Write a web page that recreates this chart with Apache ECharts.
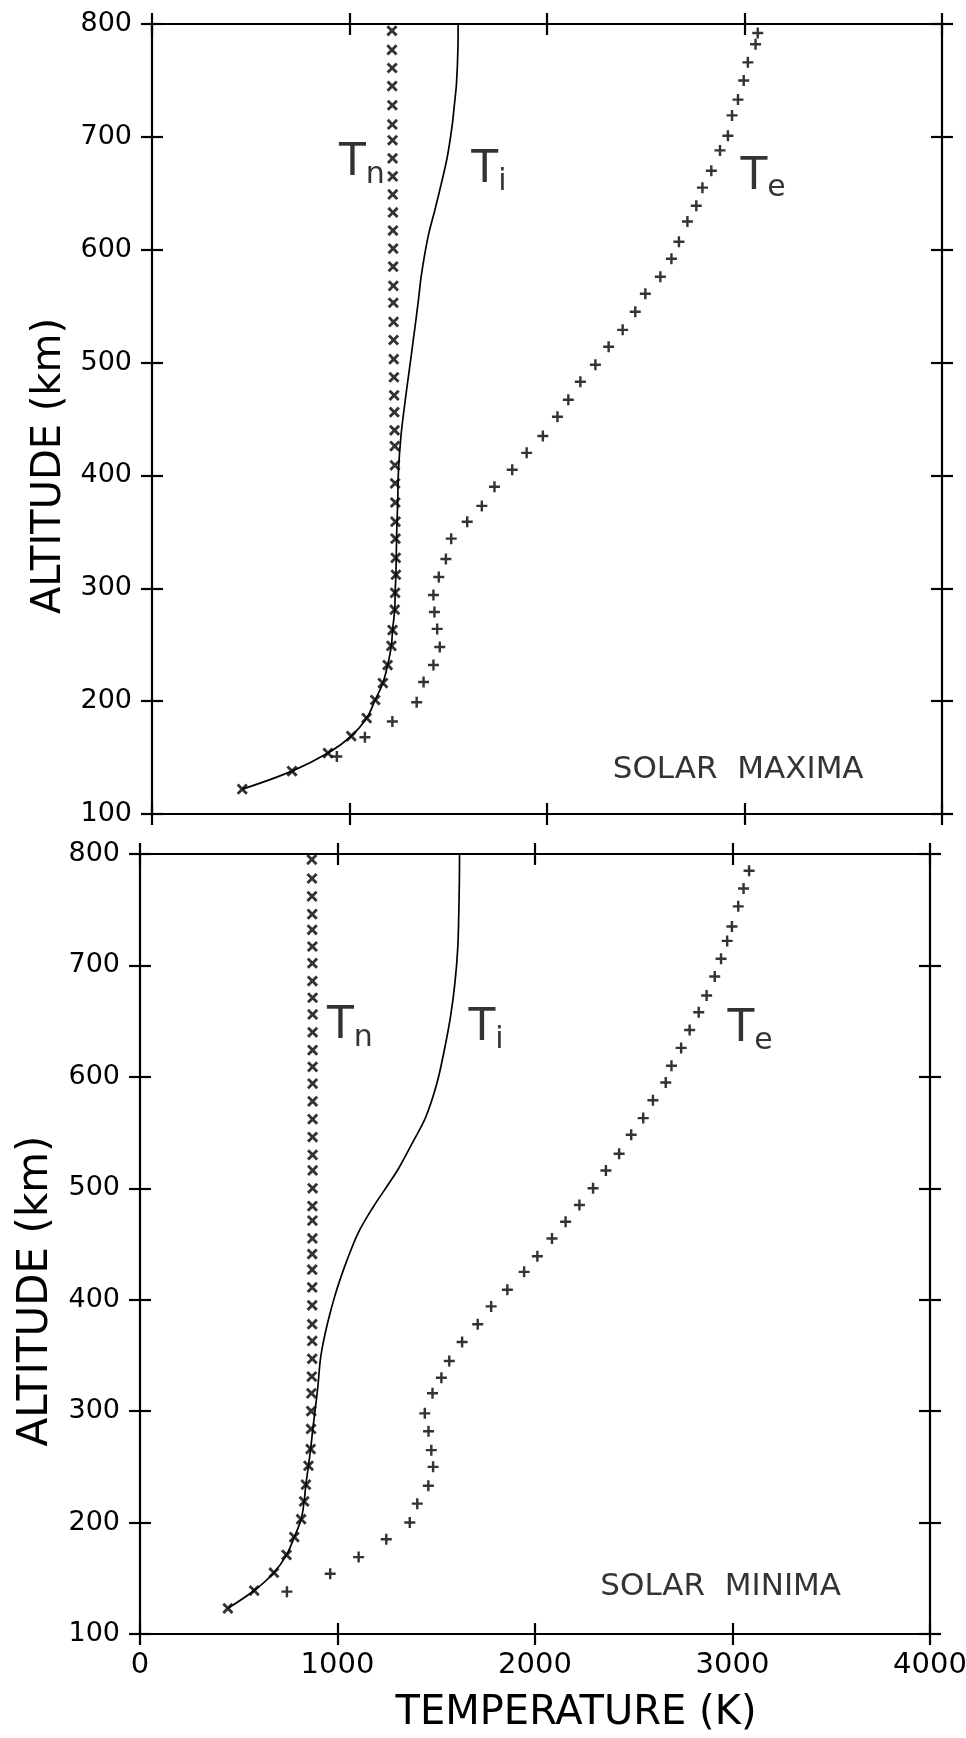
<!DOCTYPE html>
<html>
<head>
<meta charset="utf-8">
<script src="https://cdn.jsdelivr.net/npm/echarts@6/dist/echarts.min.js"></script>
<style>
  html, body { margin: 0; padding: 0; background: #ffffff; }
  #chart { width: 966px; height: 1738px; }
</style>
</head>
<body>
<div id="chart"></div>
<script>
// Altitude profiles (km) of neutral (Tn), ion (Ti) and electron (Te) temperature (K)

const altitudeTicks = [100, 200, 300, 400, 500, 600, 700, 800];
const temperatureTicks = [0, 1000, 2000, 3000, 4000];

// ---- Solar maximum ----
const maxTnAlt = [122, 138, 154, 169, 185, 201, 216, 232, 249, 263, 281, 296, 312, 327, 344, 359, 376, 393, 409, 426, 440, 456, 471, 487, 503, 520, 536, 553, 568, 585, 601, 617, 633, 649, 665, 681, 697, 711, 728, 745, 761, 777, 794];
const maxTnTemp = [457, 709, 891, 1009, 1087, 1130, 1169, 1193, 1212, 1218, 1229, 1231, 1235, 1234, 1233, 1233, 1232, 1231, 1230, 1229, 1228, 1227, 1226, 1225, 1224, 1223, 1223, 1222, 1222, 1221, 1221, 1220, 1220, 1219, 1219, 1218, 1218, 1217, 1217, 1216, 1216, 1215, 1215];

const maxTiAlt = [122, 138, 154, 169, 185, 201, 216, 232, 249, 263, 281, 296, 312, 330, 350, 376, 404, 434, 465, 495, 524, 554, 575, 595, 614, 635, 658, 682, 709, 730, 748, 778, 800];
const maxTiTemp = [457, 709, 891, 1009, 1087, 1130, 1169, 1193, 1212, 1218, 1229, 1231, 1235, 1237, 1239, 1244, 1248, 1260, 1281, 1304, 1326, 1348, 1362, 1380, 1401, 1432, 1464, 1495, 1519, 1532, 1542, 1549, 1550];

const maxTeAlt = [151, 168, 182, 199, 217, 232, 248, 264, 279, 294, 310, 326, 344, 359, 373, 390, 405, 420, 435, 452, 467, 483, 498, 514, 529, 545, 561, 576, 592, 607, 625, 639, 655, 670, 688, 701, 719, 733, 750, 766, 782, 792];
const maxTeTemp = [936, 1078, 1217, 1340, 1375, 1425, 1457, 1444, 1430, 1425, 1452, 1488, 1515, 1596, 1670, 1734, 1824, 1897, 1979, 2053, 2108, 2169, 2245, 2312, 2383, 2447, 2498, 2574, 2630, 2668, 2711, 2756, 2787, 2832, 2876, 2916, 2937, 2967, 2996, 3017, 3056, 3067];

// ---- Solar minimum ----
const minTnAlt = [123, 139, 155, 171, 187, 203, 219, 234, 251, 266, 284, 300, 316, 331, 347, 363, 378, 395, 411, 427, 441, 455, 471, 484, 500, 516, 530, 546, 562, 578, 594, 609, 624, 640, 656, 671, 686, 702, 717, 732, 746, 762, 778, 795];
const minTnTemp = [445, 578, 678, 742, 781, 816, 831, 840, 853, 864, 866, 867, 868, 870, 872, 872, 872, 872, 872, 872, 872, 873, 873, 873, 874, 874, 874, 874, 874, 874, 874, 874, 874, 874, 874, 874, 873, 873, 873, 872, 872, 871, 871, 870];

const minTiAlt = [123, 139, 155, 171, 187, 203, 219, 234, 251, 266, 284, 300, 321, 346, 360, 374, 387, 403, 416, 434, 460, 483, 503, 518, 541, 564, 594, 625, 655, 685, 716, 746, 776, 800];
const minTiTemp = [445, 578, 678, 742, 781, 816, 831, 840, 853, 864, 875, 886, 900, 913, 926, 943, 961, 986, 1009, 1045, 1105, 1180, 1255, 1310, 1380, 1447, 1503, 1542, 1573, 1595, 1609, 1614, 1617, 1618];

const minTeAlt = [138, 154, 169, 185, 200, 217, 233, 250, 265, 282, 298, 316, 330, 345, 362, 378, 394, 409, 425, 439, 455, 470, 485, 500, 516, 531, 548, 563, 579, 595, 610, 626, 642, 658, 673, 690, 706, 722, 735, 753, 769, 785];
const minTeTemp = [744, 963, 1107, 1247, 1366, 1404, 1460, 1484, 1475, 1461, 1442, 1481, 1526, 1566, 1631, 1710, 1778, 1860, 1945, 2012, 2086, 2155, 2225, 2294, 2359, 2426, 2487, 2548, 2597, 2662, 2691, 2740, 2783, 2829, 2869, 2910, 2942, 2973, 2997, 3029, 3056, 3084];

// ---- styling ----
const INK = '#000000';
const FONT = 'DejaVu Sans';
// filled plus sign; rotated by 45 degrees it gives the cross marker
const PLUS = 'path://M3.9,0H6.1V3.9H10V6.1H6.1V10H3.9V6.1H0V3.9H3.9Z';

const pairs = (temps, alts) => alts.map((a, i) => [temps[i], a]);
const plain = (v) => String(v);

const tMin = temperatureTicks[0];
const tMax = temperatureTicks[temperatureTicks.length - 1];
const tStep = temperatureTicks[1] - temperatureTicks[0];
const aMin = altitudeTicks[0];
const aMax = altitudeTicks[altitudeTicks.length - 1];
const aStep = altitudeTicks[1] - altitudeTicks[0];

const lineStyle = { color: INK, width: 2.2 };

// every frame edge carries ticks that cross the line: one axis draws the line with
// inward ticks, a twin axis at the same place draws the outward half
function frameX(grid, labelled) {
  const base = { type: 'value', gridIndex: grid, min: tMin, max: tMax, interval: tStep, splitLine: { show: false } };
  const main = (pos) => Object.assign({}, base, {
    position: pos,
    axisLine: { show: true, onZero: false, lineStyle },
    axisTick: { show: true, inside: true, length: 11, lineStyle },
    axisLabel: { show: false }
  });
  const twin = (pos) => Object.assign({}, base, {
    position: pos,
    axisLine: { show: false, onZero: false },
    axisTick: { show: true, inside: false, length: 11, lineStyle },
    axisLabel: { show: false }
  });
  const bottom = main('bottom');
  if (labelled) {
    bottom.axisLabel = { show: true, showMinLabel: true, showMaxLabel: true, margin: 17, color: INK, fontFamily: FONT, fontSize: 29, formatter: plain };
    bottom.name = 'TEMPERATURE (K)';
    bottom.nameLocation = 'middle';
    bottom.nameGap = 60;
    bottom.nameTextStyle = { color: INK, fontFamily: FONT, fontSize: 40, padding: [0, 0, 0, 82] };
  }
  return [bottom, twin('bottom'), main('top'), twin('top')];
}

function frameY(grid, nameSize) {
  const base = { type: 'value', gridIndex: grid, min: aMin, max: aMax, interval: aStep, splitLine: { show: false } };
  const left = Object.assign({}, base, {
    position: 'left',
    axisLine: { show: true, onZero: false, lineStyle },
    axisTick: { show: true, inside: true, length: 11, lineStyle },
    axisLabel: { show: true, showMinLabel: true, showMaxLabel: true, margin: 20, color: INK, fontFamily: FONT, fontSize: 27, formatter: plain },
    name: 'ALTITUDE (km)',
    nameLocation: 'middle',
    nameRotate: 90,
    nameGap: 82,
    nameTextStyle: { color: INK, fontFamily: FONT, fontSize: nameSize, padding: [0, 94, 0, 0] }
  });
  const twin = (pos) => Object.assign({}, base, {
    position: pos,
    axisLine: { show: false, onZero: false },
    axisTick: { show: true, inside: false, length: 11, lineStyle },
    axisLabel: { show: false }
  });
  const right = Object.assign({}, base, {
    position: 'right',
    axisLine: { show: true, onZero: false, lineStyle },
    axisTick: { show: true, inside: true, length: 11, lineStyle },
    axisLabel: { show: false }
  });
  return [left, twin('left'), right, twin('right')];
}

const richStyles = {
  t: { fontFamily: FONT, fontSize: 44, color: INK },
  s: { fontFamily: FONT, fontSize: 30, color: INK, padding: [22, 0, 0, 0] },
  c: { fontFamily: FONT, fontSize: 31, color: INK }
};

function panelSeries(axis, tn, ti, te, notes) {
  return [
    {
      type: 'line', xAxisIndex: axis, yAxisIndex: axis,
      data: ti, showSymbol: false, smooth: 0.35,
      lineStyle: { color: INK, width: 1.7 }, z: 2
    },
    {
      type: 'scatter', xAxisIndex: axis, yAxisIndex: axis,
      data: tn, symbol: PLUS, symbolRotate: 45, symbolSize: 13,
      itemStyle: { color: INK }, z: 3
    },
    {
      type: 'scatter', xAxisIndex: axis, yAxisIndex: axis,
      data: te, symbol: PLUS, symbolSize: 11,
      itemStyle: { color: INK }, z: 3
    },
    {
      type: 'scatter', xAxisIndex: axis, yAxisIndex: axis, silent: true,
      symbolSize: 1, itemStyle: { color: 'rgba(0,0,0,0)' }, z: 4,
      label: {
        show: true, position: 'inside', align: 'center', verticalAlign: 'middle',
        color: INK, textBorderWidth: 0, rich: richStyles
      },
      data: notes.map(n => ({ value: n.at, label: { formatter: n.text } }))
    }
  ];
}

const option = {
  animation: false,
  backgroundColor: '#ffffff',
  grid: [
    { left: 152, top: 24, width: 790, height: 790, outerBoundsMode: 'none' },
    { left: 140, top: 854, width: 790, height: 780, outerBoundsMode: 'none' }
  ],
  xAxis: frameX(0, false).concat(frameX(1, true)),
  yAxis: frameY(0, 40).concat(frameY(1, 42)),
  series: [].concat(
    panelSeries(0,
      pairs(maxTnTemp, maxTnAlt), pairs(maxTiTemp, maxTiAlt), pairs(maxTeTemp, maxTeAlt),
      [
        { at: [1063, 676], text: '{t|T}{s|n}' },
        { at: [1706, 670], text: '{t|T}{s|i}' },
        { at: [3094, 664], text: '{t|T}{s|e}' },
        { at: [2968, 139], text: '{c|SOLAR  MAXIMA}' }
      ]),
    panelSeries(4,
      pairs(minTnTemp, minTnAlt), pairs(minTiTemp, minTiAlt), pairs(minTeTemp, minTeAlt),
      [
        { at: [1063, 645], text: '{t|T}{s|n}' },
        { at: [1752, 643], text: '{t|T}{s|i}' },
        { at: [3089, 642], text: '{t|T}{s|e}' },
        { at: [2940, 142], text: '{c|SOLAR  MINIMA}' }
      ])
  )
};

const chart = echarts.init(document.getElementById('chart'), null, { renderer: 'canvas' });
chart.setOption(option);
</script>
</body>
</html>
